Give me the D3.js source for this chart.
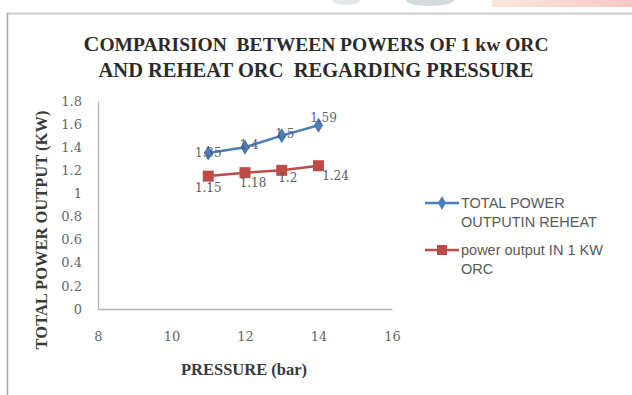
<!DOCTYPE html>
<html>
<head>
<meta charset="utf-8">
<script src="https://cdn.jsdelivr.net/npm/d3@7"></script>
<style>
  html, body { margin: 0; padding: 0; background: #ffffff; }
  svg { display: block; }
  text { white-space: pre; }
</style>
</head>
<body>
<svg id="chart" width="632" height="395"></svg>
<script>
// Pressure (bar) and power output (kW) for the two cycles
const pressure = [11, 12, 13, 14];
const reheatPower = [1.35, 1.4, 1.5, 1.59];
const orcPower = [1.15, 1.18, 1.2, 1.24];
const xTicks = [8, 10, 12, 14, 16];
const yTicks = [0, 0.2, 0.4, 0.6, 0.8, 1, 1.2, 1.4, 1.6, 1.8];
const seriesNames = [["TOTAL POWER", "OUTPUTIN REHEAT"], ["power output IN 1 KW", "ORC"]];

const svg = d3.select("#chart");
const W = 632, H = 395;

// page strip above the chart frame
const defs = svg.append("defs");
const grad = defs.append("linearGradient").attr("id", "topfade").attr("x1", "0").attr("x2", "1");
grad.append("stop").attr("offset", "0").attr("stop-color", "#fbe8da");
grad.append("stop").attr("offset", "1").attr("stop-color", "#f6c8c3");
svg.append("rect").attr("x", 492).attr("y", 0).attr("width", 140).attr("height", 7).attr("fill", "url(#topfade)");
svg.append("ellipse").attr("cx", 430).attr("cy", 0).attr("rx", 24).attr("ry", 6).attr("fill", "#d5dadd");
svg.append("ellipse").attr("cx", 346).attr("cy", 0).attr("rx", 14).attr("ry", 5).attr("fill", "#e3e7ea");

// chart frame
svg.append("line").attr("x1", 7).attr("x2", W).attr("y1", 13.5).attr("y2", 13.5)
  .attr("stroke", "#cfcfcf").attr("stroke-width", 2);
svg.append("line").attr("x1", 7.5).attr("x2", 7.5).attr("y1", 13).attr("y2", H)
  .attr("stroke", "#a8a8a8").attr("stroke-width", 1.5);

const x = d3.scaleLinear().domain([8, 16]).range([98, 392]);
const y = d3.scaleLinear().domain([0, 1.8]).range([309, 101]);

// title
const title = svg.append("text").attr("text-anchor", "middle")
  .attr("font-family", "'Liberation Serif', 'DejaVu Serif', serif")
  .attr("font-weight", "bold").attr("fill", "#2b2b2b");
const l1 = title.append("tspan").attr("x", 316).attr("y", 51);
l1.append("tspan").attr("font-size", 22).text("C");
l1.append("tspan").attr("font-size", 19.5).text("OMPARISION  BETWEEN POWERS OF 1 kw ORC");
title.append("tspan").attr("x", 316).attr("y", 77).attr("font-size", 20.5)
  .text("AND REHEAT ORC  REGARDING PRESSURE");

// axes
const tickFont = "'DejaVu Serif', serif";
const gx = svg.append("g").attr("transform", `translate(0,${y(0)})`)
  .call(d3.axisBottom(x).tickValues(xTicks).tickSize(0).tickPadding(23).tickFormat(d3.format("d")));
const gy = svg.append("g").attr("transform", `translate(${x(8)},0)`)
  .call(d3.axisLeft(y).tickValues(yTicks).tickSize(0).tickPadding(16).tickFormat(d => String(+d.toFixed(1))));
[gx, gy].forEach(g => {
  g.select(".domain").attr("stroke", "#b4b4b4").attr("stroke-width", 1.3);
  g.selectAll("text").attr("font-family", tickFont)
    .attr("font-size", 13).attr("fill", "#666666");
});

// axis titles
svg.append("text").attr("x", 244).attr("y", 375).attr("text-anchor", "middle")
  .attr("font-family", "'Liberation Serif', serif").attr("font-weight", "bold")
  .attr("font-size", 16.5).attr("fill", "#3a3a3a").text("PRESSURE (bar)");
svg.append("text").attr("transform", "translate(47,230) rotate(-90)").attr("text-anchor", "middle")
  .attr("font-family", "'Liberation Serif', serif").attr("font-weight", "bold")
  .attr("font-size", 16.5).attr("fill", "#3a3a3a").text("TOTAL POWER OUTPUT (KW)");

const line = d3.line().x(d => x(d[0])).y(d => y(d[1]));
const blue = "#4a7ebb", red = "#be4b48";
const reheatPts = pressure.map((p, i) => [p, reheatPower[i]]);
const orcPts = pressure.map((p, i) => [p, orcPower[i]]);

svg.append("path").datum(reheatPts).attr("d", line).attr("fill", "none")
  .attr("stroke", blue).attr("stroke-width", 2.5);
svg.append("path").datum(orcPts).attr("d", line).attr("fill", "none")
  .attr("stroke", red).attr("stroke-width", 2.5);

const diamond = d3.symbol().type(d3.symbolDiamond).size(55);
svg.selectAll(".rh").data(reheatPts).join("path").attr("class", "rh")
  .attr("transform", d => `translate(${x(d[0])},${y(d[1])})`)
  .attr("d", diamond).attr("fill", blue).attr("stroke", "#3a6aa5").attr("stroke-width", 0.8);
svg.selectAll(".orc").data(orcPts).join("rect").attr("class", "orc")
  .attr("x", d => x(d[0]) - 5.5).attr("y", d => y(d[1]) - 5.5)
  .attr("width", 11).attr("height", 11).attr("fill", red);

// data labels
const reheatOff = [[0, 4], [4, 2], [3, 2], [5, -3]];
svg.selectAll(".rhl").data(reheatPts).join("text").attr("class", "rhl")
  .attr("x", (d, i) => x(d[0]) + reheatOff[i][0]).attr("y", (d, i) => y(d[1]) + reheatOff[i][1])
  .attr("text-anchor", "middle").attr("font-family", tickFont).attr("font-size", 12)
  .attr("fill", "#4d4d4d").attr("opacity", 0.85).text(d => d[1]);
const orcOff = [[0, 16], [8, 14], [6, 12], [17, 14]];
svg.selectAll(".orcl").data(orcPts).join("text").attr("class", "orcl")
  .attr("x", (d, i) => x(d[0]) + orcOff[i][0]).attr("y", (d, i) => y(d[1]) + orcOff[i][1])
  .attr("text-anchor", "middle").attr("font-family", tickFont).attr("font-size", 12)
  .attr("fill", "#5a5a5a").text(d => d[1]);

// legend
const lgFont = "'Liberation Sans', Arial, sans-serif";
const legend = [{ c: blue, y: 203, sym: "d" }, { c: red, y: 250, sym: "s" }];
legend.forEach((s, i) => {
  const g = svg.append("g");
  g.append("line").attr("x1", 425).attr("x2", 459).attr("y1", s.y).attr("y2", s.y)
    .attr("stroke", s.c).attr("stroke-width", 2.5);
  if (s.sym === "d") {
    g.append("path").attr("transform", `translate(442,${s.y})`).attr("d", diamond).attr("fill", s.c);
  } else {
    g.append("rect").attr("x", 437).attr("y", s.y - 5).attr("width", 10).attr("height", 10).attr("fill", s.c);
  }
  seriesNames[i].forEach((t, j) => {
    g.append("text").attr("x", 461).attr("y", s.y + 5 + j * 19)
      .attr("font-family", lgFont).attr("font-size", 14.5).attr("fill", "#5a5a5a").text(t);
  });
});
</script>
</body>
</html>
